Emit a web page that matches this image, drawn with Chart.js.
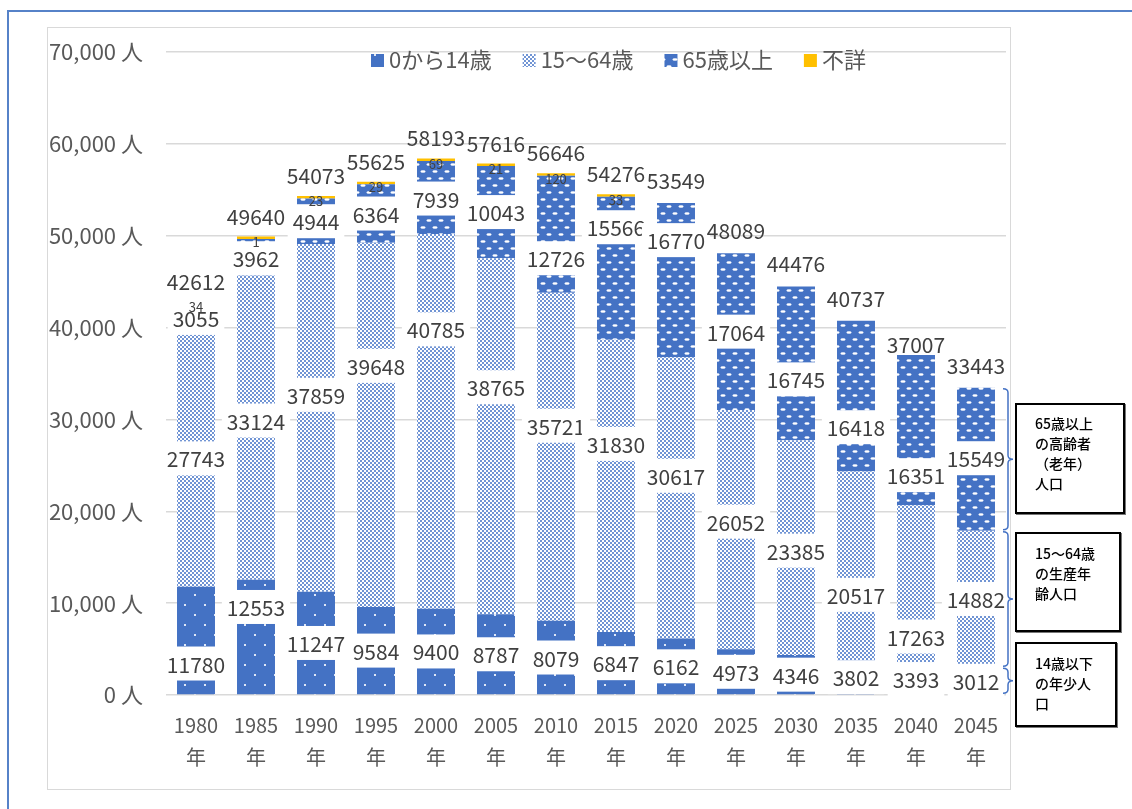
<!DOCTYPE html>
<html>
<head>
<meta charset="utf-8">
<script src="https://cdn.jsdelivr.net/npm/chart.js@4"></script>
<style>
  html, body { margin: 0; padding: 0; background: #fff; }
  body { width: 1132px; height: 809px; position: relative; overflow: hidden; font-family: "Noto Sans CJK JP", sans-serif; }
  #frameTop { position: absolute; left: 7px; top: 10px; width: 1125px; height: 2px; background: #5682c8; }
  #frameLeft { position: absolute; left: 7px; top: 10px; width: 2px; height: 799px; background: #5682c8; }
  #chartBox { position: absolute; left: 47px; top: 27px; width: 962px; height: 761px; border: 1.5px solid #d9d9d9; }
  #c { position: absolute; left: 0; top: 0; }
  .note { position: absolute; left: 1015px; border: 2px solid #000; box-shadow: 1px 1px 0 #777; background: #fff;
          font-size: 14px; line-height: 20px; font-weight: 500; padding-left: 18px; box-sizing: border-box; color: #000; }
</style>
</head>
<body>
<div id="frameTop"></div>
<div id="frameLeft"></div>
<div id="chartBox"></div>
<canvas id="c" width="1132" height="809"></canvas>
<div class="note" style="top:403px;width:110px;height:111px;padding-top:8px;">65歳以上<br>の高齢者<br>（老年）<br>人口</div>
<div class="note" style="top:532px;width:106px;height:100px;padding-top:9px;">15～64歳<br>の生産年<br>齢人口</div>
<div class="note" style="top:642px;width:102px;height:85px;padding-top:9px;">14歳以下<br>の年少人<br>口</div>
<script>
// 年次
const years = ['1980', '1985', '1990', '1995', '2000', '2005', '2010', '2015', '2020', '2025', '2030', '2035', '2040', '2045'];
// 年齢3区分別人口
const young   = [11780, 12553, 11247, 9584, 9400, 8787, 8079, 6847, 6162, 4973, 4346, 3802, 3393, 3012];
const working = [27743, 33124, 37859, 39648, 40785, 38765, 35721, 31830, 30617, 26052, 23385, 20517, 17263, 14882];
const elderly = [3055, 3962, 4944, 6364, 7939, 10043, 12726, 15566, 16770, 17064, 16745, 16418, 16351, 15549];
const unknown = [34, 1, 23, 29, 69, 21, 120, 33, null, null, null, null, null, null];
const seriesNames = ['0から14歳', '15～64歳', '65歳以上', '不詳'];

// 元の図で手で動かされたラベルのずれ (px)
const nudgeYoung   = [23, -30, 0, 0, 0, 0, 0, 0, 0, 0, 0, 0, 0, 0];
const nudgeWorking = [-1, -7, -23, -59, -92, -49, -31, -42, -22, -8, 3, 29, 52, 0];
const nudgeElderly = [0, 1, 0, 0, 1, 0, 24, -41, -40, 0, 16, 31, 45, -1];
const nudgeTotal   = [0, 0, 0, 0, 0, 0, 0, 0, 0, 0, 0, 0, 12, 0];

const BLUE = '#4472C4';
const FONT = '"Noto Sans CJK JP", "Noto Sans", sans-serif';
Chart.defaults.font.family = FONT;

// 塗りパターン
function tile(w, h, paint) {
  const c = document.createElement('canvas');
  c.width = w; c.height = h;
  const g = c.getContext('2d');
  paint(g);
  return g.createPattern(c, 'repeat');
}
const patYoung = tile(20, 20, g => {
  g.fillStyle = BLUE; g.fillRect(0, 0, 20, 20);
  g.fillStyle = '#dfe7f6';
  g.fillRect(4, 4, 2, 2); g.fillRect(14, 14, 2, 2);
});
const patWorking = tile(4, 4, g => {
  g.fillStyle = '#ffffff'; g.fillRect(0, 0, 4, 4);
  g.fillStyle = '#7094d4';
  g.fillRect(0, 0, 2, 2); g.fillRect(2, 2, 2, 2);
});
const patElderly = tile(12, 14, g => {
  g.fillStyle = BLUE; g.fillRect(0, 0, 12, 14);
  g.fillStyle = '#ffffff';
  g.beginPath(); g.ellipse(3, 3.5, 2.6, 1.3, 0, 0, Math.PI * 2); g.fill();
  g.beginPath(); g.ellipse(9, 10.5, 2.6, 1.3, 0, 0, Math.PI * 2); g.fill();
});

// 棒の中のラベル（白い背景付き）と合計
const labelPlugin = {
  id: 'segLabels',
  afterDatasetsDraw(chart) {
    const ctx = chart.ctx;
    const nudges = [nudgeYoung, nudgeWorking, nudgeElderly];
    ctx.save();
    ctx.textAlign = 'center';
    ctx.textBaseline = 'middle';
    ctx.font = '21px ' + FONT;
    nudges.forEach((nudge, di) => {
      const meta = chart.getDatasetMeta(di);
      meta.data.forEach((bar, i) => {
        const txt = String(chart.data.datasets[di].data[i]);
        const y = (bar.y + bar.base) / 2 + nudge[i];
        const w = ctx.measureText(txt).width + 10;
        ctx.fillStyle = '#fff';
        ctx.fillRect(bar.x - w / 2, y - 17, w, 34);
        ctx.fillStyle = '#404040';
        ctx.fillText(txt, bar.x, y + 1);
      });
    });
    // 不詳
    ctx.font = '13px ' + FONT;
    chart.getDatasetMeta(3).data.forEach((bar, i) => {
      const v = unknown[i];
      if (v == null) return;
      ctx.fillStyle = '#404040';
      ctx.fillText(String(v), bar.x, bar.base + 3);
    });
    // 合計
    ctx.font = '21px ' + FONT;
    const ys = chart.scales.y;
    chart.getDatasetMeta(0).data.forEach((bar, i) => {
      const total = young[i] + working[i] + elderly[i] + (unknown[i] || 0);
      const y = ys.getPixelForValue(total) - 22 + nudgeTotal[i];
      ctx.fillStyle = '#404040';
      ctx.fillText(String(total), bar.x, y);
    });
    ctx.restore();
  }
};

// 凡例とかっこ
const extrasPlugin = {
  id: 'extras',
  afterDraw(chart) {
    const ctx = chart.ctx;
    ctx.save();
    ctx.font = '22px ' + FONT;
    ctx.textBaseline = 'middle';
    ctx.textAlign = 'left';
    let x = 371;
    const y = 60;
    chart.data.datasets.forEach(ds => {
      ctx.fillStyle = ds.backgroundColor;
      ctx.fillRect(x, y - 6, 13, 13);
      ctx.fillStyle = '#595959';
      ctx.fillText(ds.label, x + 18, y);
      x += 18 + ctx.measureText(ds.label).width + 31;
    });

    // 2045年の棒の右側のかっこ
    const last = years.length - 1;
    const bx = chart.chartArea.right - 3;
    ctx.strokeStyle = BLUE;
    ctx.lineWidth = 1.5;
    [0, 1, 2].forEach(di => {
      const bar = chart.getDatasetMeta(di).data[last];
      const top = bar.y + 1, bottom = bar.base - 1, mid = (top + bottom) / 2;
      const r = Math.min(4, (bottom - top) / 4);
      ctx.beginPath();
      ctx.moveTo(bx, top);
      ctx.quadraticCurveTo(bx + 5, top, bx + 5, top + r);
      ctx.lineTo(bx + 5, mid - r);
      ctx.quadraticCurveTo(bx + 5, mid, bx + 10, mid);
      ctx.quadraticCurveTo(bx + 5, mid, bx + 5, mid + r);
      ctx.lineTo(bx + 5, bottom - r);
      ctx.quadraticCurveTo(bx + 5, bottom, bx, bottom);
      ctx.stroke();
    });
    ctx.restore();
  }
};

new Chart(document.getElementById('c'), {
  type: 'bar',
  data: {
    labels: years.map(y => [y, '年']),
    datasets: [
      { label: seriesNames[0], data: young,   backgroundColor: patYoung },
      { label: seriesNames[1], data: working, backgroundColor: patWorking },
      { label: seriesNames[2], data: elderly, backgroundColor: patElderly },
      { label: seriesNames[3], data: unknown, backgroundColor: '#FFC000', minBarLength: 2.5 }
    ]
  },
  options: {
    responsive: false,
    animation: false,
    layout: { padding: { left: 48, top: 52, right: 126, bottom: 34 } },
    datasets: { bar: { categoryPercentage: 1, barPercentage: 0.633 } },
    plugins: { legend: { display: false }, tooltip: { enabled: false } },
    scales: {
      x: {
        stacked: true,
        grid: { display: false },
        border: { display: false },
        ticks: { color: '#595959', font: { size: 20, lineHeight: 1.6 }, padding: 6, maxRotation: 0 },
        afterFit: s => { s.height = 80; }
      },
      y: {
        stacked: true,
        min: 0,
        max: 70000,
        grid: { color: '#d9d9d9', lineWidth: 1.5, drawTicks: false },
        border: { display: false },
        ticks: {
          stepSize: 10000,
          color: '#595959',
          font: { size: 22 },
          padding: 23,
          callback: v => v.toLocaleString('en-US') + ' 人'
        },
        afterFit: s => { s.width = 118; }
      }
    }
  },
  plugins: [labelPlugin, extrasPlugin]
});
</script>
</body>
</html>
